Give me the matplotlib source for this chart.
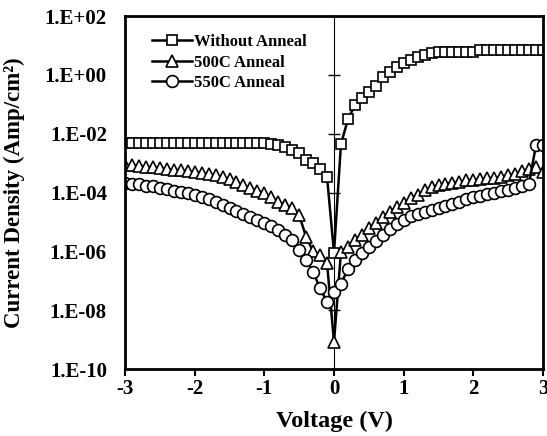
import matplotlib
matplotlib.use("Agg")
import matplotlib.pyplot as plt
import numpy as np
from matplotlib.ticker import FixedLocator, FuncFormatter, NullLocator

plt.rcParams['font.family'] = ['Liberation Serif', 'DejaVu Serif']
plt.rcParams['font.weight'] = 'bold'
plt.rcParams['axes.unicode_minus'] = False

# voltage grid, 0.1 V steps from -3 to 3
voltage = np.round(np.arange(-30, 31) / 10.0, 1)

# current density (Amp/cm2)
without_anneal = [
    4.9e-3, 4.9e-3, 4.8e-3, 4.8e-3, 4.8e-3, 4.8e-3, 4.8e-3, 4.8e-3, 4.8e-3, 4.8e-3,
    4.8e-3, 4.8e-3, 4.8e-3, 4.8e-3, 4.8e-3, 4.8e-3, 4.8e-3, 4.8e-3, 4.8e-3, 4.7e-3,
    4.7e-3, 4.6e-3, 4.1e-3, 3.5e-3, 2.8e-3, 2.2e-3, 1.3e-3, 1.0e-3, 6.3e-4, 3.4e-4,
    9.0e-7,
    4.4e-3, 3.1e-2, 9.3e-2, 0.16, 0.26, 0.42, 0.85, 1.26, 1.9, 2.5,
    3.2, 4.1, 4.7, 5.5, 6.0, 6.1, 6.1, 6.1, 6.1, 6.1,
    6.9, 6.9, 6.9, 6.9, 6.9, 6.9, 6.9, 6.9, 6.9, 6.9,
]
anneal_500 = [
    8.7e-4, 8.3e-4, 7.9e-4, 7.6e-4, 7.1e-4, 6.8e-4, 6.3e-4, 6.0e-4, 5.6e-4, 5.4e-4,
    5.0e-4, 4.6e-4, 4.2e-4, 3.8e-4, 3.4e-4, 2.8e-4, 2.2e-4, 1.8e-4, 1.4e-4, 1.15e-4,
    9.5e-5, 6.8e-5, 4.8e-5, 3.8e-5, 3.0e-5, 1.7e-5, 3.1e-6, 1.0e-6, 7.6e-7, 4.0e-7,
    8.3e-10,
    9.5e-7, 1.4e-6, 2.5e-6, 3.6e-6, 6.3e-6, 9.1e-6, 1.5e-5, 2.2e-5, 3.2e-5, 4.3e-5,
    6.3e-5, 8.3e-5, 1.2e-4, 1.5e-4, 1.8e-4, 2.0e-4, 2.1e-4, 2.3e-4, 2.6e-4, 2.7e-4,
    2.8e-4, 3.0e-4, 3.2e-4, 3.4e-4, 3.8e-4, 4.2e-4, 5.2e-4, 6.3e-4, 7.1e-4, 5.0e-4,
]
anneal_550 = [
    2.1e-4, 2.0e-4, 1.9e-4, 1.7e-4, 1.6e-4, 1.4e-4, 1.3e-4, 1.15e-4, 1.05e-4, 9.3e-5,
    8.3e-5, 7.1e-5, 5.9e-5, 4.8e-5, 3.8e-5, 3.0e-5, 2.4e-5, 1.9e-5, 1.5e-5, 1.2e-5,
    9.1e-6, 7.1e-6, 5.4e-6, 3.5e-6, 2.5e-6, 1.1e-6, 5.1e-7, 2.0e-7, 5.6e-8, 1.9e-8,
    4.2e-8,
    7.9e-8, 2.5e-7, 5.0e-7, 8.9e-7, 1.4e-6, 2.2e-6, 3.5e-6, 5.6e-6, 8.3e-6, 1.2e-5,
    1.6e-5, 1.9e-5, 2.2e-5, 2.6e-5, 3.0e-5, 3.4e-5, 4.0e-5, 4.8e-5, 5.8e-5, 6.8e-5,
    7.6e-5, 8.9e-5, 1.0e-4, 1.1e-4, 1.2e-4, 1.4e-4, 1.6e-4, 2.0e-4, 4.2e-3, 4.2e-3,
]

series = [
    ("Without Anneal", without_anneal, "s", 7.5),
    ("500C Anneal", anneal_500, "^", 8.5),
    ("550C Anneal", anneal_550, "o", 8.5),
]

xticks = [-3, -2, -1, 0, 1, 2, 3]
yticks = [1e-10, 1e-8, 1e-6, 1e-4, 1e-2, 1e0, 1e2]

fig = plt.figure(figsize=(5.47, 4.36), dpi=100)
ax = fig.add_axes([125 / 547, 67 / 436, 418 / 547, 353 / 436])

for name, vals, mk, ms in series:
    ax.plot(voltage, vals, color="black", lw=1.8, marker=mk, ms=ms,
            mfc="white", mec="black", mew=1.2, label=name)

ax.set_yscale("log")
ax.set_xlim(-3, 3)
ax.set_ylim(1e-10, 1e2)
ax.xaxis.set_major_locator(FixedLocator(xticks))
ax.yaxis.set_major_locator(FixedLocator(yticks))
ax.yaxis.set_minor_locator(NullLocator())
ax.yaxis.set_major_formatter(FuncFormatter(lambda v, p: f"1.E{int(round(np.log10(v))):+03d}"))

for sp in ax.spines.values():
    sp.set_linewidth(2)

ax.tick_params(axis="x", direction="out", length=5, width=1.5, pad=2, labelsize=15)
ax.tick_params(axis="y", length=0, pad=13, labelsize=15)

# vertical axis line at V = 0 with crossing ticks
mid = ax.secondary_yaxis(0.5)
mid.yaxis.set_major_locator(FixedLocator(yticks))
mid.yaxis.set_minor_locator(NullLocator())
mid.tick_params(axis="y", direction="inout", length=9, width=1, labelleft=False, labelright=False)
mid.spines["left"].set_linewidth(1)

ax.set_xlabel("Voltage (V)", fontsize=17.5, fontweight="bold")
ax.set_ylabel("Current Density (Amp/cm²)", fontsize=16.5, fontweight="bold")
ax.xaxis.set_label_coords(0.5, -0.118)
ax.yaxis.set_label_coords(-0.24, 0.5)

ax.legend(loc="upper left", bbox_to_anchor=(0.065, 0.949), frameon=False,
          borderpad=0, borderaxespad=0, handlelength=2.4, handletextpad=0.1,
          labelspacing=0.27, prop=dict(family="Liberation Serif", weight="bold", size=12))

fig.savefig("out.png", dpi=100)
